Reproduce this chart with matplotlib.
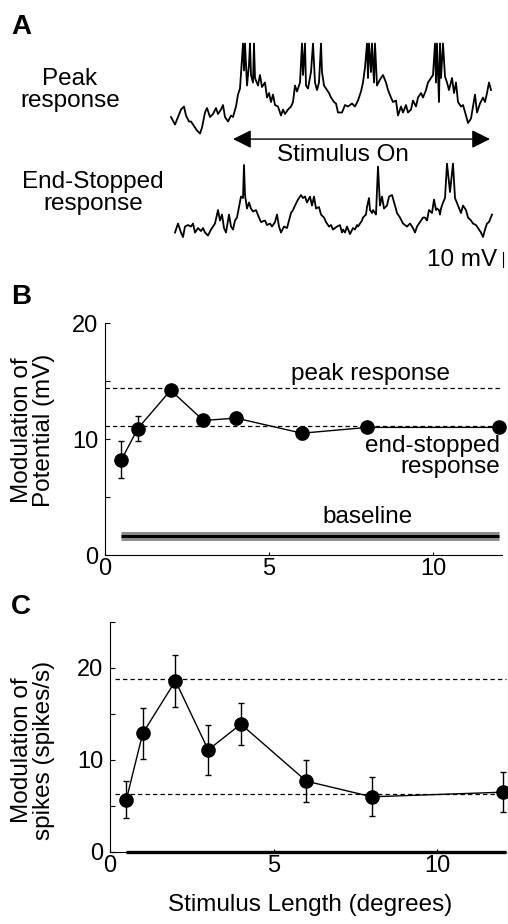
import matplotlib
matplotlib.use("Agg")
import matplotlib.pyplot as plt
import numpy as np

plt.rcParams["font.family"] = ["Liberation Sans", "DejaVu Sans"]

# ==========================================================
# Data
# ==========================================================

# panel A traces: time (arbitrary samples) and potential (mV, 0 = trace floor)
peak_t = [0, 4, 7, 10, 13, 15, 18, 20, 23, 26, 29, 31, 34, 36, 39, 42, 45, 47, 50, 52,
          54, 57, 60, 62, 65, 67, 69, 70, 72, 73, 74, 76, 78, 79, 80, 82, 83, 84, 87, 89,
          91, 94, 96, 98, 100, 102, 104, 107, 110, 112, 114, 117, 120, 122, 124, 126, 129, 131, 132, 134,
          135, 137, 140, 142, 144, 146, 148, 150, 151, 153, 155, 158, 160, 163, 165, 167, 171, 174, 177, 181,
          184, 187, 190, 192, 194, 196, 197, 198, 200, 201, 203, 204, 206, 209, 212, 215, 217, 220, 222, 225,
          227, 230, 232, 235, 237, 240, 242, 245, 247, 250, 252, 255, 257, 260, 262, 264, 265, 266, 268, 269,
          270, 272, 274, 276, 278, 281, 283, 285, 287, 290, 292, 295, 297, 300, 302, 304, 306, 309, 312, 314,
          316, 318, 320]
peak_v = [12, 7, 12, 17, 19, 13, 9, 9, 6, 3, 1, 5, 15, 18, 12, 14, 18, 14, 17, 20,
          12, 9, 13, 12, 19, 27, 31, 41, 61, 43, 61, 33, 47, 61, 40, 35, 61, 38, 33, 40,
          32, 35, 25, 28, 22, 27, 20, 19, 13, 17, 14, 17, 19, 22, 33, 29, 35, 61, 40, 61,
          33, 31, 42, 61, 35, 30, 35, 61, 42, 33, 31, 28, 25, 22, 21, 15, 15, 20, 19, 21,
          19, 23, 29, 35, 45, 61, 38, 61, 42, 61, 35, 61, 33, 37, 40, 35, 30, 25, 22, 23,
          13, 19, 15, 20, 15, 17, 23, 19, 25, 28, 25, 30, 35, 38, 40, 61, 35, 61, 22, 61,
          38, 61, 39, 35, 30, 38, 28, 35, 22, 19, 20, 13, 8, 11, 19, 27, 15, 21, 25, 22,
          28, 35, 30]

stop_t = [4, 7, 10, 12, 14, 17, 20, 22, 24, 27, 30, 32, 34, 37, 40, 42, 44, 47, 49, 51,
          53, 55, 58, 60, 62, 64, 66, 68, 70, 72, 73, 74, 76, 78, 80, 82, 85, 88, 90, 94,
          96, 99, 101, 104, 106, 108, 110, 113, 116, 118, 120, 122, 124, 127, 130, 132, 134, 136, 139, 141,
          143, 145, 148, 150, 153, 155, 158, 160, 162, 164, 166, 169, 171, 172, 174, 176, 179, 182, 184, 186,
          187, 189, 191, 192, 195, 196, 198, 199, 201, 202, 205, 207, 209, 211, 213, 216, 218, 221, 224, 226,
          229, 232, 234, 236, 239, 242, 244, 246, 249, 252, 254, 256, 258, 261, 263, 265, 266, 268, 269, 270,
          272, 274, 276, 279, 282, 284, 287, 290, 292, 295, 297, 300, 302, 305, 307, 310, 312, 314, 316, 318,
          321]
stop_v = [5, 11, 5, 2, 9, 10, 9, 11, 5, 8, 6, 8, 5, 3, 7, 9, 11, 20, 13, 17,
          8, 5, 17, 9, 7, 13, 15, 22, 29, 28, 50, 30, 21, 25, 21, 19, 20, 15, 12, 13,
          10, 11, 9, 12, 17, 9, 5, 9, 8, 13, 18, 20, 23, 27, 30, 28, 29, 25, 29, 23,
          29, 21, 22, 17, 15, 12, 9, 10, 7, 8, 9, 10, 5, 7, 5, 9, 4, 8, 7, 10,
          9, 11, 13, 15, 17, 22, 28, 20, 18, 20, 17, 49, 23, 29, 21, 23, 29, 30, 23, 18,
          15, 11, 10, 9, 11, 8, 5, 9, 12, 15, 15, 13, 20, 18, 27, 20, 21, 20, 17, 21,
          25, 28, 51, 32, 51, 28, 23, 18, 23, 20, 15, 13, 11, 10, 8, 5, 2, 7, 11, 12,
          17]

# panels B and C
stim_len = [0.5, 1, 2, 3, 4, 6, 8, 12]
pot_mod = [8.2, 10.9, 14.2, 11.6, 11.8, 10.5, 11.0, 11.0]
pot_err = [1.6, 1.1, 0.4, 0.5, 0.5, 0.5, 0.4, 0.4]
pot_peak = 14.4
pot_endstop = 11.1
pot_baseline = 1.65

spk_mod = [5.7, 12.9, 18.6, 11.1, 13.9, 7.7, 6.0, 6.5]
spk_err = [2.0, 2.8, 2.8, 2.7, 2.3, 2.3, 2.1, 2.2]
spk_peak = 18.8
spk_endstop = 6.3
spk_baseline = 0.0

W, H = 508, 924
FS = 17.5

# ==========================================================
# Figure
# ==========================================================

fig = plt.figure(figsize=(W / 100, H / 100), dpi=100)

# ---------- panel A ----------
axA = fig.add_axes([0, 1 - 290 / H, 1, 290 / H])
axA.set_xlim(-171, 337)
axA.set_ylim(-103.3, 90)   # 1.5 px per mV
axA.axis("off")

axA.plot(peak_t, peak_v, color="black", lw=1.3)
axA.plot(stop_t, np.array(stop_v) - 70, color="black", lw=1.3)

# stimulus arrow
axA.annotate("", xy=(62, -2.7), xytext=(319, -2.7),
             arrowprops=dict(arrowstyle="<|-|>", color="black", lw=1.0,
                             mutation_scale=28, shrinkA=0, shrinkB=0))
axA.text(172, -13, "Stimulus On", ha="center", va="center", fontsize=FS)

# 10 mV scale bar
axA.plot([332, 332], [-78, -88], color="black", lw=0.8)
axA.text(326, -83.5, "10 mV", ha="right", va="center", fontsize=FS)

fig.text(70 / W, 1 - 90 / H, "Peak\nresponse", ha="center", va="center",
         fontsize=FS, linespacing=0.95)
fig.text(93 / W, 1 - 193 / H, "End-Stopped\nresponse", ha="center", va="center",
         fontsize=FS, linespacing=0.95)

for lab, x, y in [("A", 11, 27), ("B", 11, 297), ("C", 11, 607)]:
    fig.text(x / W, 1 - y / H, lab, ha="left", va="center", fontsize=20,
             fontweight="bold")


def style_axis(ax, ymax, yminor):
    for s in ["top", "right"]:
        ax.spines[s].set_visible(False)
    for s in ["left", "bottom"]:
        ax.spines[s].set_linewidth(0.8)
    ax.set_xlim(0, 12.1)
    ax.set_ylim(0, ymax)
    ax.set_xticks([0, 5, 10])
    ax.set_yticks([0, 10, 20])
    ax.set_yticks(yminor, minor=True)
    ax.tick_params(axis="y", which="both", direction="in", length=3.5, width=0.8,
                   labelsize=17, pad=5)
    ax.tick_params(axis="x", direction="in", length=2, width=0.8, labelsize=17, pad=2)


def draw_series(ax, y, err, peak, endstop, dash_start):
    ax.plot([dash_start, 12.1], [peak, peak], color="black", lw=0.9,
            dashes=(3.5, 2.5), clip_on=False)
    ax.plot([dash_start, 12.1], [endstop, endstop], color="black", lw=0.9,
            dashes=(3.5, 2.5), clip_on=False)
    ax.errorbar(stim_len, y, yerr=err, color="black", lw=1.0, elinewidth=1.0,
                capsize=2.5, capthick=1.0, marker="o", markersize=9.5,
                markerfacecolor="black", markeredgecolor="black", clip_on=False,
                zorder=3)


# ---------- panel B ----------
axB = fig.add_axes([105 / W, 1 - 555 / H, 397 / W, 232 / H])
style_axis(axB, 20, [5, 15])
draw_series(axB, pot_mod, pot_err, pot_peak, pot_endstop, 0)
axB.plot([0.5, 12], [pot_baseline, pot_baseline], color="0.55", lw=6.5,
         solid_capstyle="butt")
axB.plot([0.5, 12], [pot_baseline, pot_baseline], color="black", lw=2.2,
         solid_capstyle="butt")
axB.text(8.1, 15.6, "peak response", ha="center", va="center", fontsize=FS)
axB.text(12.05, 8.5, "end-stopped\nresponse", ha="right", va="center",
         fontsize=FS, linespacing=0.95)
axB.text(8.0, 3.3, "baseline", ha="center", va="center", fontsize=FS)

fig.text(33 / W, 1 - 430 / H, "Modulation of\nPotential (mV)", rotation=90,
         ha="center", va="center", fontsize=FS, linespacing=0.95)

# ---------- panel C ----------
axC = fig.add_axes([110 / W, 1 - 852 / H, 396 / W, 230 / H])
style_axis(axC, 25, [5, 15, 25])
draw_series(axC, spk_mod, spk_err, spk_peak, spk_endstop, 0.15)
axC.plot([0.5, 12.1], [spk_baseline, spk_baseline], color="black", lw=2.4,
         solid_capstyle="butt", clip_on=False, zorder=2)

fig.text(33 / W, 1 - 750 / H, "Modulation of\nspikes (spikes/s)", rotation=90,
         ha="center", va="center", fontsize=FS, linespacing=0.95)
fig.text(310 / W, 1 - 905 / H, "Stimulus Length (degrees)", ha="center",
         va="center", fontsize=FS)

fig.savefig("out.png", dpi=100)
